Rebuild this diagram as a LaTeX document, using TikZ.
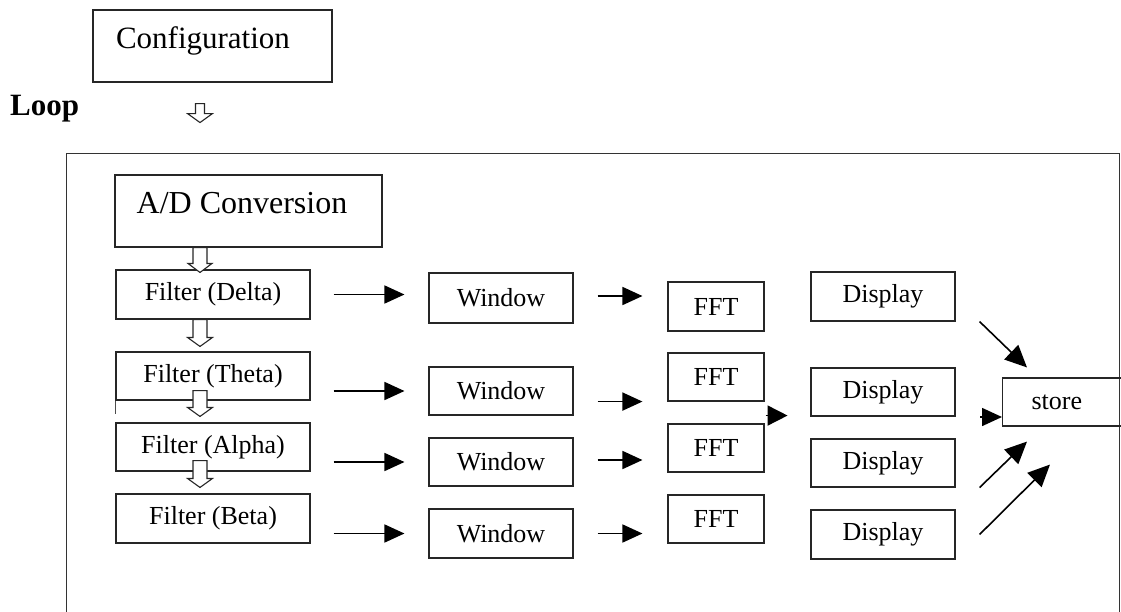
\documentclass[tikz,border=0pt]{standalone}
\usepackage{fontspec}
\setmainfont{Liberation Serif}
\usetikzlibrary{arrows.meta,calc}
\begin{document}
\begin{tikzpicture}[x=1pt,y=-1pt,
  box/.style={draw=black!85, line width=1.1pt, inner sep=0pt},
  lbl/.style={font=\fontsize{26}{30}\selectfont},
  big/.style={font=\fontsize{31}{36}\selectfont},
  arr/.style={draw=black, line width=1.6pt, -{Triangle[length=20pt,width=18pt]}},
  darr/.style={draw=black, line width=1.6pt, -{Triangle[length=22pt,width=20pt]}},
  harrow/.style={draw=black!85, line width=1.1pt, fill=white, line join=miter},
  frame/.style={draw=black!80, line width=1pt}
]
\useasboundingbox (0,0) rectangle (1121,611);
\clip (0,0) rectangle (1121,611);

% outer loop frame
\draw[frame] (66,630) -- (66,153) -- (1119,153) -- (1119,630);

% configuration and loop
\node[box, minimum width=239pt, minimum height=72pt] (conf) at (212.5,46) {};
\node[big, anchor=base, inner sep=0pt] (conftxt) at (203,48) {Configuration};
\node[font=\fontsize{31}{36}\selectfont\bfseries, anchor=base west, inner sep=0pt] (loop) at (10,115) {Loop};

% A/D
\node[box, minimum width=267pt, minimum height=72pt] (ad) at (248.5,211) {};
\node[font=\fontsize{32}{36}\selectfont, anchor=base, inner sep=0pt] (adtxt) at (242,213) {A/D Conversion};

% filters
\node[box, lbl, minimum width=194pt, minimum height=49pt] (fd) at (213,294.5) {Filter (Delta)\hspace{11pt}};
\node[box, lbl, minimum width=194pt, minimum height=48pt] (ft) at (213,376) {Filter (Theta)\hspace{9pt}};
\node[box, lbl, minimum width=194pt, minimum height=48pt] (fa) at (213,447) {Filter (Alpha)\hspace{9pt}};
\node[box, lbl, minimum width=194pt, minimum height=49pt] (fb) at (213,518.5) {Filter (Beta)\hspace{11pt}};
\draw[draw=black!70, line width=0.8pt] (ft.south west) -- ++(0,13);

% windows
\node[box, lbl, minimum width=144pt, minimum height=50pt] (wd) at (501,298) {Window\hspace{12pt}};
\node[box, lbl, minimum width=144pt, minimum height=48pt] (wt) at (501,391) {Window\hspace{12pt}};
\node[box, lbl, minimum width=144pt, minimum height=48pt] (wa) at (501,462) {Window\hspace{12pt}};
\node[box, lbl, minimum width=144pt, minimum height=49pt] (wb) at (501,533.5) {Window\hspace{12pt}};

% FFT
\node[box, lbl, minimum width=96pt, minimum height=49pt] (fftd) at (716,306.5) {FFT\hspace{11pt}};
\node[box, lbl, minimum width=96pt, minimum height=48pt] (fftt) at (716,377) {FFT\hspace{11pt}};
\node[box, lbl, minimum width=96pt, minimum height=48pt] (ffta) at (716,448) {FFT\hspace{11pt}};
\node[box, lbl, minimum width=96pt, minimum height=48pt] (fftb) at (716,519) {FFT\hspace{11pt}};

% Display
\node[box, lbl, minimum width=144pt, minimum height=49pt] (dd) at (883,296.5) {Display};
\node[box, lbl, minimum width=144pt, minimum height=48pt] (dt) at (883,392) {Display};
\node[box, lbl, minimum width=144pt, minimum height=48pt] (da) at (883,463) {Display};
\node[box, lbl, minimum width=144pt, minimum height=49pt] (db) at (883,534.5) {Display};

% store
\node[box, lbl, minimum height=48pt, text width=80pt, inner xsep=29pt, align=left, anchor=west] (store) at (1002,402) {store};

% hollow arrows
\coordinate (axis) at (200,0);
\newcommand\hollowdown[4]{%
  \draw[harrow] let \p1=#1, \p2=#2 in
   (\x1-#3,\y1) -- (\x1-#3,\y2+9pt) -- (\x1-#4,\y2+9pt) -- (\x1,\y2)
   -- (\x1+#4,\y2+9pt) -- (\x1+#3,\y2+9pt) -- (\x1+#3,\y1) -- cycle;}
\coordinate (h0t) at ($(conf.south -| axis)+(0,21)$);
\coordinate (h0b) at ($(conf.south -| axis)+(0,40)$);
\coordinate (h1t) at (ad.south -| axis);
\coordinate (h1b) at ($(fd.north -| axis)+(0,3)$);
\coordinate (h2t) at (fd.south -| axis);
\coordinate (h2b) at ($(ft.north -| axis)+(0,-5)$);
\coordinate (h3t) at ($(ft.south -| axis)+(0,-10)$);
\coordinate (h3b) at ($(fa.north -| axis)+(0,-6)$);
\coordinate (h4t) at ($(fa.south -| axis)+(0,-11)$);
\coordinate (h4b) at ($(fb.north -| axis)+(0,-6)$);
\hollowdown{(h0t)}{(h0b)}{4.5pt}{12.5pt}
\hollowdown{(h1t)}{(h1b)}{7pt}{12pt}
\hollowdown{(h2t)}{(h2b)}{7pt}{12.5pt}
\hollowdown{(h3t)}{(h3b)}{7pt}{12.5pt}
\hollowdown{(h4t)}{(h4b)}{7pt}{12.5pt}

% filter -> window
\draw[arr] ($(fd.east)+(23,0)$) -- ($(fd.east -| wd.west)+(-24,0)$);
\draw[arr] ($(wt.west -| ft.east)+(23,0)$) -- ($(wt.west)+(-24,0)$);
\draw[arr] ($(wa.west -| fa.east)+(23,0)$) -- ($(wa.west)+(-24,0)$);
\draw[arr] ($(wb.west -| fb.east)+(23,0)$) -- ($(wb.west)+(-24,0)$);

% window -> FFT
\draw[arr] ($(wd.east)+(24,-2)$) -- ($(wd.east -| fftd.west)+(-25,-2)$);
\draw[arr] ($(fftt.south west -| wt.east)+(24,0)$) -- ($(fftt.south west)+(-25,0)$);
\draw[arr] ($(wa.east)+(24,-2)$) -- ($(wa.east -| ffta.west)+(-25,-2)$);
\draw[arr] ($(wb.east)+(24,0)$) -- ($(wb.east -| fftb.west)+(-25,0)$);

% lone arrowhead between FFT and Display
\coordinate (lone) at ($(fftt.south east)+(1,14)$);
\draw[arr, -{Triangle[length=20pt,width=20pt]}] (lone) -- ++(22,0);

% to store
\coordinate (d1s) at ($(dd.south east)+(24,0)$);
\coordinate (d1e) at ($(store.north west)+(25,-10)$);
\draw[darr] (d1s) -- (d1e);
\draw[arr] ($(store.west)+(-22,15)$) -- ($(store.west)+(0,15)$);
\coordinate (d3s) at ($(da.south east)+(24,0)$);
\coordinate (d3e) at ($(store.south west)+(25,15)$);
\draw[darr] (d3s) -- (d3e);
\coordinate (d4s) at ($(db.east)+(24,0)$);
\coordinate (d4e) at ($(store.south west)+(48,38)$);
\draw[darr] (d4s) -- (d4e);
\end{tikzpicture}
\end{document}
